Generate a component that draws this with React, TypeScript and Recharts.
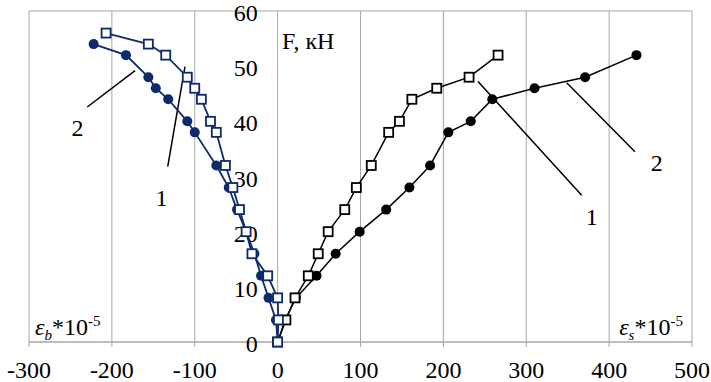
import React from 'react';
import { ScatterChart, Scatter, XAxis, YAxis, CartesianGrid, ReferenceDot, ReferenceLine } from 'recharts';

// Load F, kN
const loadSq = [0, 4, 8, 12, 16, 20, 24, 28, 32, 38, 40, 44, 46, 48, 52, 54, 56];
const loadCi = [0, 4, 8, 12, 16, 20, 24, 28, 32, 38, 40, 44, 46, 48, 52, 54];
const loadR = [0, 4, 8, 12, 16, 20, 24, 28, 32, 38, 40, 44, 46, 48, 52];

// concrete strain eps_b (compression side)
const ebBeam1 = [0, 1, 0, -12, -31, -38, -46, -54, -63, -74, -81, -92, -100, -109, -135, -156, -207];
const ebBeam2 = [0, -2, -11, -20, -28, -38, -49, -59, -74, -100, -109, -132, -147, -156, -183, -222];
// rebar strain eps_s (tension side)
const esBeam1 = [0, 10, 21, 37, 49, 61, 81, 95, 113, 134, 147, 162, 192, 231, 266];
const esBeam2 = [0, 9, 22, 47, 70, 99, 131, 159, 184, 206, 233, 259, 310, 371, 433];

const xTicks = [-300, -200, -100, 0, 100, 200, 300, 400, 500];
const yTicks = [0, 10, 20, 30, 40, 50, 60];

const BLUE = '#0c2a6c';
const BLACK = '#000000';
const GRID = '#a6a6a6';
const FONT = 'Liberation Serif, Tinos, DejaVu Serif, serif';

const pts = (xs: number[], ys: number[]) => xs.map((x, i) => ({ x, y: ys[i] }));

const Square = (color: string) => (p: any) => (
  <rect x={p.cx - 4.5} y={p.cy - 4.5} width={9} height={9} fill="#ffffff" stroke={color} strokeWidth={1.8} />
);
const Dot = (color: string) => (p: any) => <circle cx={p.cx} cy={p.cy} r={5} fill={color} />;

const leaders = [
  { n: '2', seg: [{ x: -229.7, y: 42.6 }, { x: -172, y: 49.2 }], lab: { x: -241.5, y: 38.9 } },
  { n: '1', seg: [{ x: -132.6, y: 31.8 }, { x: -111.8, y: 49.9 }], lab: { x: -140, y: 26.1 } },
  { n: '1', seg: [{ x: 241.8, y: 47.2 }, { x: 366.9, y: 26.6 }], lab: { x: 379, y: 22.7 } },
  { n: '2', seg: [{ x: 348.8, y: 47.0 }, { x: 431.2, y: 34.5 }], lab: { x: 457.4, y: 32.5 } },
];

const txt = { fontSize: 24, fontFamily: FONT, fill: '#000' } as const;

export default function App() {
  return (
    <div style={{ position: 'absolute', left: 0, top: 0, fontFamily: FONT }}>
      <ScatterChart width={711} height={382} margin={{ top: 11, right: 19, left: 29, bottom: 10 }} style={{ fontFamily: FONT }}>
        <CartesianGrid stroke={GRID} strokeWidth={1} />
        <XAxis
          type="number"
          dataKey="x"
          domain={[-300, 500]}
          ticks={xTicks}
          interval={0}
          height={30}
          tickSize={5}
          tickMargin={14}
          axisLine={{ stroke: GRID }}
          tickLine={{ stroke: GRID }}
          tick={{ fill: '#000', fontSize: 24, fontFamily: FONT, style: { fontFamily: FONT } }}
          allowDataOverflow
        />
        <YAxis
          type="number"
          dataKey="y"
          domain={[0, 60]}
          ticks={yTicks}
          width={0}
          tick={false}
          axisLine={false}
          tickLine={false}
        />
        {yTicks.map((t) => (
          <ReferenceDot
            key={'yl' + t}
            x={0}
            y={t}
            r={0}
            shape={(p: any) => (
              <text x={p.cx - 20} y={p.cy} dy="0.42em" textAnchor="end" style={txt}>
                {t}
              </text>
            )}
          />
        ))}
        <ReferenceDot
          x={5.3}
          y={53.2}
          r={0}
          shape={(p: any) => (
            <text x={p.cx} y={p.cy} style={txt}>
              F, кН
            </text>
          )}
        />
        <ReferenceDot
          x={-292.8}
          y={1.27}
          r={0}
          shape={(p: any) => (
            <text x={p.cx} y={p.cy} style={txt}>
              <tspan fontStyle="italic">ε</tspan>
              <tspan fontStyle="italic" fontSize={15} dy={5}>b</tspan>
              <tspan dy={-5}>*10</tspan>
              <tspan fontSize={15} dy={-9}>-5</tspan>
            </text>
          )}
        />
        <ReferenceDot
          x={489.1}
          y={1.27}
          r={0}
          shape={(p: any) => (
            <text x={p.cx} y={p.cy} textAnchor="end" style={txt}>
              <tspan fontStyle="italic">ε</tspan>
              <tspan fontStyle="italic" fontSize={15} dy={5}>s</tspan>
              <tspan dy={-5}>*10</tspan>
              <tspan fontSize={15} dy={-9}>-5</tspan>
            </text>
          )}
        />
        {leaders.map((l, i) => (
          <ReferenceLine key={'ll' + i} segment={l.seg} stroke="#000" strokeWidth={1.5} />
        ))}
        {leaders.map((l, i) => (
          <ReferenceDot
            key={'lt' + i}
            x={l.lab.x}
            y={l.lab.y}
            r={0}
            shape={(p: any) => (
              <text x={p.cx} y={p.cy} dy="0.35em" textAnchor="middle" style={txt}>
                {l.n}
              </text>
            )}
          />
        ))}
        <Scatter
          data={pts(esBeam2, loadR)}
          line={{ stroke: BLACK, strokeWidth: 1.5 }}
          shape={Dot(BLACK)}
          isAnimationActive={false}
        />
        <Scatter
          data={pts(esBeam1, loadR)}
          line={{ stroke: BLACK, strokeWidth: 1.5 }}
          shape={Square(BLACK)}
          isAnimationActive={false}
        />
        <Scatter
          data={pts(ebBeam2, loadCi)}
          line={{ stroke: BLUE, strokeWidth: 1.8 }}
          shape={Dot(BLUE)}
          isAnimationActive={false}
        />
        <Scatter
          data={pts(ebBeam1, loadSq)}
          line={{ stroke: BLUE, strokeWidth: 1.8 }}
          shape={Square(BLUE)}
          isAnimationActive={false}
        />
      </ScatterChart>
    </div>
  );
}
